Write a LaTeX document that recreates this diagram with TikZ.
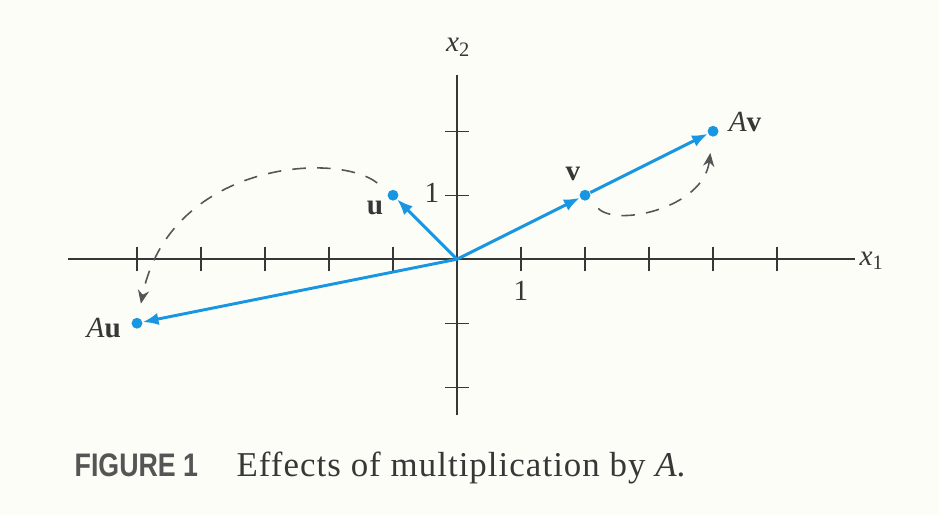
\documentclass[tikz,border=0pt]{standalone}
\usepackage{fontspec}
\setmainfont{Liberation Serif}
\newfontfamily\figfont[FakeStretch=0.82]{Liberation Sans}
\newfontfamily\capserif[LetterSpace=3]{Liberation Serif}
\usetikzlibrary{arrows.meta, positioning}
\usepackage{xcolor}
\definecolor{vecblue}{RGB}{25,150,225}
\definecolor{paper}{RGB}{253,253,248}
\definecolor{ink}{RGB}{55,55,55}

\begin{document}
\begin{tikzpicture}[auto, font=\fontsize{13}{15}\selectfont, text=ink,
    dot/.style={circle, fill=vecblue, inner sep=0pt, minimum size=0.17cm},
    vec/.style={draw=vecblue, line width=1.3pt, -{Latex[length=7pt,width=5.5pt]}},
    turn/.style={draw=ink!85, dash pattern=on 6pt off 5pt, line width=0.7pt, -{Stealth[length=6pt,width=5pt]}},
    tick/.style={draw=ink, line width=0.6pt}]
    \fill[paper] (-7.14,-4.0) rectangle (7.53,4.05);
    \useasboundingbox (-7.14,-4.0) rectangle (7.53,4.05);

    % axes
    \coordinate (o) at (0,0);
    \coordinate (xl) at (-6.08,0);
    \coordinate (xr) at (6.22,0);
    \coordinate (yb) at (0,-2.44);
    \coordinate (yt) at (0,2.88);
    \path [draw, ink, line width=0.7pt] (xl) -- (xr);
    \path [draw, ink, line width=0.7pt] (yb) -- (yt);
    \foreach \i in {-5,...,-1,1,2,...,5}
        \path [tick] (\i,-0.19) -- (\i,0.19);
    \foreach \j in {-2,-1,1,2}
        \path [tick] (-0.19,\j) -- (0.19,\j);
    \node (xone) at (6.48,-0.03) {\textit{x}\textsubscript{1}};
    \node (xtwo) at (0.02,3.31) {\textit{x}\textsubscript{2}};
    \node (onex) at (1,-0.5) {1};
    \node (oney) at (-0.39,1.03) {1};

    % vectors
    \node[dot] (u) at (-1,1) {};
    \node[dot] (v) at (2,1) {};
    \node[dot] (Av) at (4,2) {};
    \node[dot] (Au) at (-5,-1) {};
    \node (ulabel) at (-1.28,0.8) {\textbf{u}};
    \node (vlabel) at (1.81,1.33) {\textbf{v}};
    \node (Avlabel) at (4.5,2.15) {\textit{A}\textbf{v}};
    \node (Aulabel) at (-5.52,-1.08) {\textit{A}\textbf{u}};

    \path [vec] (o) -- (u);
    \path [vec] (o) -- (v);
    \path [vec] (v) -- (Av);
    \path [vec] (o) -- (Au);

    \path [turn, shorten <=0.22cm, shorten >=0.22cm] (u) .. controls (-1.9,1.7) and (-4.5,1.5) .. (Au);
    \path [turn, shorten <=0.2cm, shorten >=0.25cm] (v) .. controls (2.5,0.5) and (3.85,0.8) .. (Av);

    % caption
    \node[anchor=base west, inner sep=0pt, text=ink!85, font=\figfont\fontsize{14.5}{16}\selectfont\bfseries] (fig) at (-5.98,-3.4) {FIGURE 1};
    \node[anchor=base west, inner sep=0pt, font=\capserif\fontsize{15.5}{18}\selectfont] (cap) at (-3.45,-3.4) {Effects of multiplication by \textit{A}.};
\end{tikzpicture}
\end{document}
